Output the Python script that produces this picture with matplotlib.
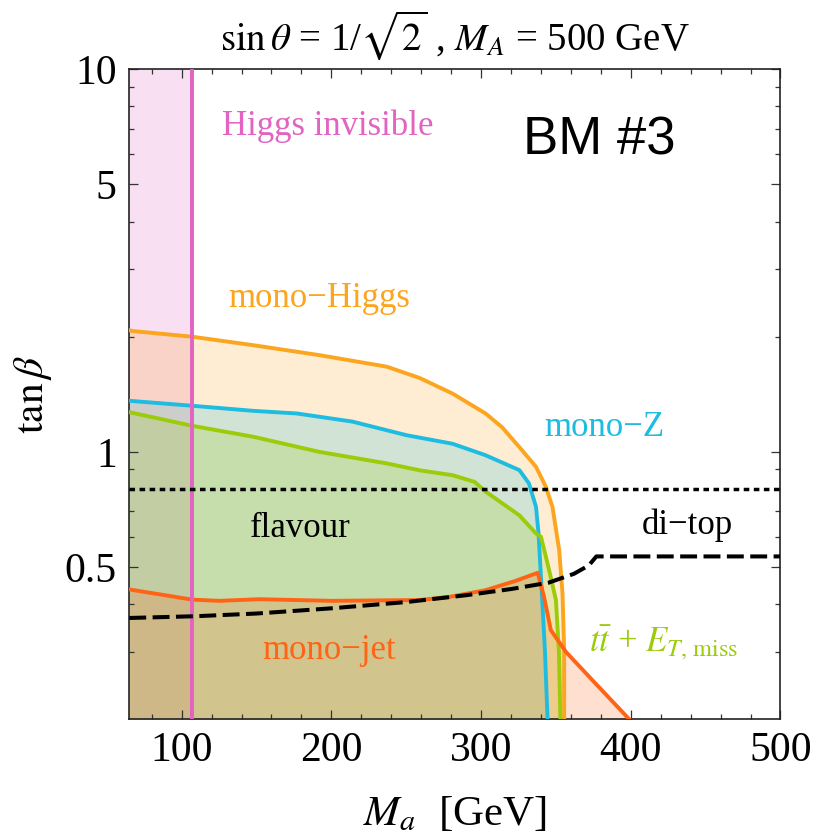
import matplotlib
matplotlib.use("Agg")
import matplotlib.pyplot as plt
from matplotlib.ticker import FixedLocator, NullFormatter, FixedFormatter

plt.rcParams['mathtext.fontset'] = 'stix'
plt.rcParams['font.family'] = ['Liberation Serif', 'DejaVu Serif']

# ---- data ----
XMIN, XMAX = 65, 500
YMIN, YMAX = 0.2, 10

ma_higgs = [65, 67, 107, 148, 192, 237, 259, 281, 303, 314, 325.5, 336.7, 343.3, 347.7, 352.2, 354.4, 355.5, 355.5]
tb_higgs = [2.08, 2.07, 2.0, 1.90, 1.79, 1.67, 1.56, 1.42, 1.26, 1.16, 1.03, 0.914, 0.81, 0.718, 0.553, 0.426, 0.303, 0.2]

ma_z = [65, 107, 148, 177, 214, 250, 281, 303, 325.6, 332, 336.7, 338.4, 340, 342.7, 344.4]
tb_z = [1.36, 1.32, 1.28, 1.26, 1.20, 1.106, 1.05, 0.98, 0.896, 0.827, 0.718, 0.612, 0.471, 0.30, 0.2]

ma_tt = [65, 107, 148, 192, 237, 259, 281, 295.6, 303.3, 325.5, 336.7, 340, 345.5, 350, 352, 353]
tb_tt = [1.27, 1.17, 1.095, 1.0, 0.933, 0.895, 0.869, 0.835, 0.786, 0.683, 0.612, 0.60, 0.49, 0.41, 0.30, 0.2]

ma_jet = [65, 107, 125, 152, 200, 259, 279, 303, 323, 337.8, 342, 346.6, 356.7, 374.4, 399]
tb_jet = [0.437, 0.411, 0.408, 0.412, 0.408, 0.41, 0.418, 0.435, 0.46, 0.483, 0.419, 0.342, 0.30, 0.253, 0.2]

ma_ditop = [65, 110, 150, 200, 250, 290, 320, 345, 362, 372, 377, 500]
tb_ditop = [0.368, 0.372, 0.378, 0.39, 0.405, 0.422, 0.438, 0.455, 0.48, 0.505, 0.533, 0.533]

tb_flavour = 0.80
ma_higgs_inv = 107

xticks = [100, 200, 300, 400, 500]
yticks = [0.5, 1, 5, 10]
yticklabels = ['0.5', '1', '5', '10']

# ---- colours ----
c_orange = '#FCA51E'
c_cyan = '#1EBCE0'
c_green = '#9BCB0A'
c_jet = '#FF6416'
c_pink = '#E263C2'

fig = plt.figure(figsize=(8.13, 8.40), dpi=100)
ax = fig.add_axes([0.159, 0.1437, 0.801, 0.7738])
ax.set_yscale('log')
ax.set_xlim(XMIN, XMAX)
ax.set_ylim(YMIN, YMAX)

a = 0.2
ax.axvspan(XMIN, ma_higgs_inv, color=c_pink, alpha=a, lw=0, zorder=1)
ax.fill_between(ma_higgs, tb_higgs, YMIN, color=c_orange, alpha=a, lw=0, zorder=1)
ax.fill_between(ma_z, tb_z, YMIN, color=c_cyan, alpha=a, lw=0, zorder=1)
ax.fill_between(ma_tt, tb_tt, YMIN, color=c_green, alpha=a, lw=0, zorder=1)
ax.fill_between(ma_jet, tb_jet, YMIN, color=c_jet, alpha=a, lw=0, zorder=1)

lw = 2.8
ax.plot(ma_higgs, tb_higgs, color=c_orange, lw=lw, zorder=3)
ax.plot(ma_z, tb_z, color=c_cyan, lw=lw, zorder=3)
ax.plot(ma_tt, tb_tt, color=c_green, lw=lw, zorder=3)
ax.plot(ma_jet, tb_jet, color=c_jet, lw=lw, zorder=3)
ax.axvline(ma_higgs_inv, color=c_pink, lw=lw, zorder=3)
l1, = ax.plot(ma_ditop, tb_ditop, color='black', lw=2.9, zorder=4)
l1.set_dashes((4.2, 1.6))
l2 = ax.axhline(tb_flavour, color='black', lw=2.5, zorder=4)
l2.set_dashes((1.6, 1.3))

# ticks
ax.xaxis.set_major_locator(FixedLocator(xticks))
ax.xaxis.set_minor_locator(FixedLocator([v for v in range(80, 500, 20) if v % 100]))
ax.yaxis.set_major_locator(FixedLocator(yticks))
ax.yaxis.set_major_formatter(FixedFormatter(yticklabels))
minor_y = [0.3, 0.4, 0.6, 0.7, 0.8, 0.9, 2, 3, 4, 6, 7, 8, 9]
ax.yaxis.set_minor_locator(FixedLocator(minor_y))
ax.yaxis.set_minor_formatter(NullFormatter())
ax.tick_params(which='both', direction='in', top=True, right=True, labelsize=30, color='#333333')
ax.tick_params(which='major', length=6.3, width=0.9, pad=9)
ax.tick_params(which='minor', length=3.8, width=0.9)
for s in ax.spines.values():
    s.set_linewidth(1.2)
    s.set_color('#222222')

ax.set_xlabel(r'$M_a$  [GeV]', fontsize=31, labelpad=18)
ax.set_ylabel(r'$\tan\beta$', fontsize=30, labelpad=8)
ax.set_title(r'$\sin\theta$ = 1/$\sqrt{2}$ , $M_A$ = 500 GeV', fontsize=28, pad=14)

# annotations
ax.text(126.7, 7.08, 'Higgs invisible', color=c_pink, fontsize=25, va='center', ha='left')
ax.text(379, 6.53, 'BM #3', color='black', fontsize=38, va='center', ha='center', family='Liberation Sans')
ax.text(131, 2.52, 'mono\u2212Higgs', color=c_orange, fontsize=25, va='center', ha='left')
ax.text(342, 1.16, 'mono\u2212Z', color=c_cyan, fontsize=25, va='center', ha='left')
ax.text(145.5, 0.63, 'flavour', color='black', fontsize=25, va='center', ha='left')
ax.text(407, 0.643, 'di\u2212top', color='black', fontsize=25, va='center', ha='left')
ax.text(372, 0.316, r'$t\bar{t}$ + $E_{T,\,\mathrm{miss}}$', color=c_green, fontsize=25, va='center', ha='left')
ax.text(153.5, 0.303, 'mono\u2212jet', color=c_jet, fontsize=25, va='center', ha='left')

fig.savefig('out.png', dpi=100)
